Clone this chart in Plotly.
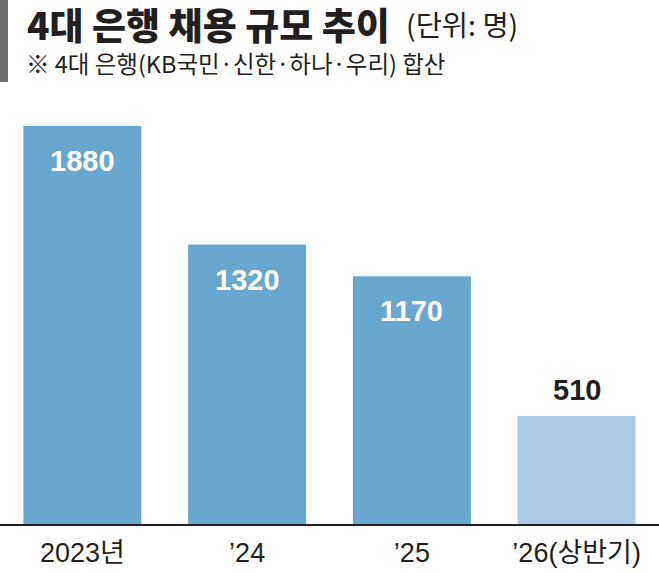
import plotly.graph_objects as go

# data
years = ["2023년", "’24", "’25", "’26(상반기)"]
hires = [1880, 1320, 1170, 510]
bar_colors = ["#68a8cf", "#68a8cf", "#68a8cf", "#abcae2"]

NUM_FONT = "Liberation Sans Narrow, Liberation Sans, Arial, sans-serif"
KR_FONT = "Liberation Sans Narrow, Liberation Sans, Noto Sans CJK KR, sans-serif"
INK = "#231f20"

fig = go.Figure()
fig.add_trace(go.Bar(x=years, y=hires, marker=dict(color=bar_colors, line=dict(width=0)),
                     hoverinfo="skip", showlegend=False))

# value labels: white inside for full years, dark above for the half year
for i, (yr, v) in enumerate(zip(years, hires)):
    inside = i < len(years) - 1
    fig.add_annotation(x=yr, y=v, text="<b>%d</b>" % v, showarrow=False,
                       yanchor="top" if inside else "bottom",
                       yshift=-17 if inside else 8,
                       font=dict(family=NUM_FONT, size=29,
                                 color="white" if inside else INK))

# title block (paper y measured from the plot top, 424px tall)
def py(px):
    return 1 + (100 - px) / 424

fig.add_shape(type="rect", xref="paper", yref="paper", x0=0, x1=8 / 659,
              y0=py(82), y1=py(0), fillcolor="#6d6e70", line=dict(width=0))
fig.add_annotation(xref="paper", yref="paper", x=25 / 659, y=py(24),
                   xanchor="left", yanchor="middle", showarrow=False,
                   text="4대 은행 채용 규모 추이",
                   font=dict(family="Noto Sans CJK KR", size=37, weight=900, color=INK))
fig.add_annotation(xref="paper", yref="paper", x=404 / 659, y=py(24),
                   xanchor="left", yanchor="middle", showarrow=False,
                   text="(단위: 명)",
                   font=dict(family="Noto Sans CJK KR", size=28.5, color=INK))
fig.add_annotation(xref="paper", yref="paper", x=24 / 659, y=py(62.5),
                   xanchor="left", yanchor="middle", showarrow=False,
                   text="※ 4대 은행(KB국민·신한·하나·우리) 합산",
                   font=dict(family="Noto Sans CJK KR", size=23.5, color=INK))

fig.update_layout(
    width=659, height=573,
    margin=dict(l=0, r=0, t=100, b=49),
    plot_bgcolor="white", paper_bgcolor="white",
    bargap=0.284,
)
fig.update_xaxes(showline=True, linecolor=INK, linewidth=2, ticks="",
                 tickfont=dict(family=KR_FONT, size=27, color=INK),
                 ticklabelstandoff=4,
                 range=[-0.5, 3.5], fixedrange=True)
fig.update_yaxes(visible=False, range=[0, 2003], fixedrange=True)

fig.write_html("out.html", config={"displayModeBar": False},
               post_script="document.body.style.margin='0';")
